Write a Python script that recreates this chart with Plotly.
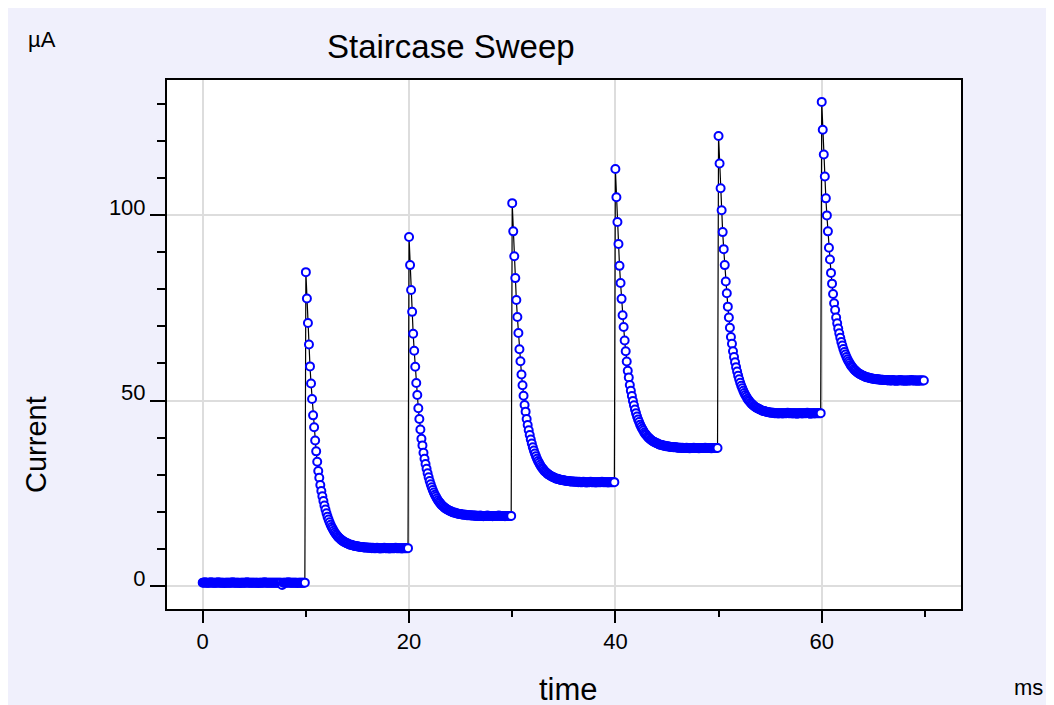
import numpy as np
import plotly.graph_objects as go

# ---- data ----
sample_interval_ms = 0.1

step0 = [0.9, 0.9, 1.0, 0.9, 0.9, 0.9, 0.9, 0.9, 1.0, 0.9,
         0.9, 0.9, 0.9, 0.9, 0.9, 1.0, 0.9, 0.9, 0.9, 0.9,
         0.9, 0.8, 0.9, 0.9, 0.9, 0.9, 0.9, 0.9, 0.9, 1.0,
         0.9, 0.9, 0.9, 0.9, 0.9, 0.9, 0.8, 0.9, 0.9, 0.9,
         0.9, 0.9, 0.9, 1.0, 0.9, 0.9, 0.9, 0.9, 0.9, 0.9,
         0.9, 0.9, 0.9, 0.9, 0.8, 0.9, 0.9, 0.9, 0.9, 0.9,
         1.0, 0.9, 0.9, 0.9, 0.9, 0.9, 0.9, 0.9, 0.9, 0.9,
         0.9, 0.9, 0.9, 0.9, 0.9, 0.9, 0.9, 0.3, 0.9, 0.9,
         0.9, 0.9, 0.9, 1.0, 0.9, 0.9, 0.9, 0.9, 0.9, 0.9,
         0.9, 0.9, 0.8, 0.9, 0.9, 0.9, 0.9, 0.9, 0.9, 0.9]

step1 = [84.6, 77.5, 70.9, 65.1, 59.2, 54.6, 50.4, 46.0, 42.8, 39.2,
         36.3, 33.5, 31.0, 29.2, 27.2, 25.6, 24.2, 22.9, 21.7, 20.6,
         19.6, 18.7, 17.9, 17.2, 16.5, 15.9, 15.4, 14.9, 14.4, 14.0,
         13.7, 13.3, 13.0, 12.8, 12.5, 12.3, 12.1, 11.9, 11.8, 11.6,
         11.5, 11.4, 11.2, 11.1, 11.1, 11.0, 10.9, 10.8, 10.8, 10.7,
         10.7, 10.6, 10.6, 10.5, 10.5, 10.5, 10.4, 10.4, 10.4, 10.4,
         10.3, 10.3, 10.3, 10.3, 10.2, 10.3, 10.2, 10.2, 10.2, 10.3,
         10.2, 10.2, 10.1, 10.2, 10.2, 10.2, 10.3, 10.2, 10.2, 10.2,
         10.2, 10.1, 10.2, 10.2, 10.2, 10.2, 10.2, 10.3, 10.2, 10.2,
         10.2, 10.2, 10.2, 10.1, 10.2, 10.2, 10.2, 10.2, 10.2, 10.2]

step2 = [94.1, 86.5, 79.8, 73.9, 68.0, 63.4, 59.1, 54.7, 51.5, 47.9,
         45.0, 42.2, 39.7, 37.9, 35.9, 34.3, 32.9, 31.6, 30.4, 29.3,
         28.3, 27.4, 26.6, 25.9, 25.2, 24.6, 24.1, 23.6, 23.1, 22.7,
         22.4, 22.0, 21.7, 21.5, 21.2, 21.0, 20.8, 20.6, 20.5, 20.3,
         20.2, 20.1, 19.9, 19.8, 19.8, 19.7, 19.6, 19.5, 19.5, 19.4,
         19.4, 19.3, 19.3, 19.2, 19.2, 19.2, 19.1, 19.1, 19.1, 19.1,
         19.0, 19.0, 19.0, 19.0, 18.9, 19.0, 18.9, 18.9, 18.9, 19.0,
         18.9, 18.9, 18.8, 18.9, 18.9, 18.9, 19.0, 18.9, 18.9, 18.9,
         18.9, 18.8, 18.9, 18.9, 18.9, 18.9, 18.9, 19.0, 18.9, 18.9,
         18.9, 18.9, 18.9, 18.8, 18.9, 18.9, 18.9, 18.9, 18.9, 18.9]

step3 = [103.2, 95.6, 88.9, 83.0, 77.1, 72.5, 68.2, 63.8, 60.6, 57.0,
         54.1, 51.3, 48.8, 47.0, 45.0, 43.4, 42.0, 40.7, 39.5, 38.4,
         37.4, 36.5, 35.7, 35.0, 34.3, 33.7, 33.2, 32.7, 32.2, 31.8,
         31.5, 31.1, 30.8, 30.6, 30.3, 30.1, 29.9, 29.7, 29.6, 29.4,
         29.3, 29.2, 29.0, 28.9, 28.9, 28.8, 28.7, 28.6, 28.6, 28.5,
         28.5, 28.4, 28.4, 28.3, 28.3, 28.3, 28.2, 28.2, 28.2, 28.2,
         28.1, 28.1, 28.1, 28.1, 28.0, 28.1, 28.0, 28.0, 28.0, 28.1,
         28.0, 28.0, 27.9, 28.0, 28.0, 28.0, 28.1, 28.0, 28.0, 28.0,
         28.0, 27.9, 28.0, 28.0, 28.0, 28.0, 28.0, 28.1, 28.0, 28.0,
         28.0, 28.0, 28.0, 27.9, 28.0, 28.0, 28.0, 28.0, 28.0, 28.0]

step4 = [112.4, 104.8, 98.1, 92.2, 86.3, 81.7, 77.4, 73.0, 69.8, 66.2,
         63.3, 60.5, 58.0, 56.2, 54.2, 52.6, 51.2, 49.9, 48.7, 47.6,
         46.6, 45.7, 44.9, 44.2, 43.5, 42.9, 42.4, 41.9, 41.4, 41.0,
         40.7, 40.3, 40.0, 39.8, 39.5, 39.3, 39.1, 38.9, 38.8, 38.6,
         38.5, 38.4, 38.2, 38.1, 38.1, 38.0, 37.9, 37.8, 37.8, 37.7,
         37.7, 37.6, 37.6, 37.5, 37.5, 37.5, 37.4, 37.4, 37.4, 37.4,
         37.3, 37.3, 37.3, 37.3, 37.2, 37.3, 37.2, 37.2, 37.2, 37.3,
         37.2, 37.2, 37.1, 37.2, 37.2, 37.2, 37.3, 37.2, 37.2, 37.2,
         37.2, 37.1, 37.2, 37.2, 37.2, 37.2, 37.2, 37.3, 37.2, 37.2,
         37.2, 37.2, 37.2, 37.1, 37.2, 37.2, 37.2, 37.2, 37.2, 37.2]

step5 = [121.3, 113.9, 107.2, 101.3, 95.4, 90.8, 86.5, 82.1, 78.9, 75.3,
         72.4, 69.6, 67.1, 65.3, 63.3, 61.7, 60.3, 59.0, 57.8, 56.7,
         55.7, 54.8, 54.0, 53.3, 52.6, 52.0, 51.5, 51.0, 50.5, 50.1,
         49.8, 49.4, 49.1, 48.9, 48.6, 48.4, 48.2, 48.0, 47.9, 47.7,
         47.6, 47.5, 47.3, 47.2, 47.2, 47.1, 47.0, 46.9, 46.9, 46.8,
         46.8, 46.7, 46.7, 46.7, 46.6, 46.6, 46.6, 46.6, 46.5, 46.6,
         46.6, 46.6, 46.5, 46.6, 46.6, 46.6, 46.6, 46.7, 46.6, 46.6,
         46.6, 46.6, 46.5, 46.6, 46.6, 46.6, 46.4, 46.6, 46.6, 46.6,
         46.6, 46.5, 46.6, 46.6, 46.6, 46.6, 46.7, 46.6, 46.6, 46.4,
         46.6, 46.6, 46.6, 46.5, 46.6, 46.6, 46.6, 46.6, 46.6, 46.6]

step6 = [130.5, 123.0, 116.3, 110.4, 104.5, 99.9, 95.6, 91.2, 88.0, 84.4,
         81.5, 78.7, 76.2, 74.4, 72.4, 70.8, 69.4, 68.1, 66.9, 65.8,
         64.8, 63.9, 63.1, 62.4, 61.7, 61.1, 60.6, 60.1, 59.6, 59.2,
         58.9, 58.5, 58.2, 58.0, 57.7, 57.5, 57.3, 57.1, 57.0, 56.8,
         56.7, 56.6, 56.4, 56.3, 56.3, 56.2, 56.1, 56.0, 56.0, 55.9,
         55.9, 55.8, 55.8, 55.7, 55.7, 55.7, 55.6, 55.6, 55.6, 55.6,
         55.5, 55.5, 55.5, 55.5, 55.4, 55.5, 55.4, 55.4, 55.4, 55.5,
         55.4, 55.4, 55.3, 55.4, 55.4, 55.4, 55.5, 55.4, 55.4, 55.4,
         55.4, 55.3, 55.4, 55.4, 55.4, 55.4, 55.4, 55.5, 55.4, 55.4,
         55.4, 55.4, 55.4, 55.3, 55.4, 55.4, 55.4, 55.4, 55.4, 55.4]

current_uA = step0 + step1 + step2 + step3 + step4 + step5 + step6
time_ms = np.arange(len(current_uA)) * sample_interval_ms

x_tick_vals = [0, 20, 40, 60]
x_tick_text = ["0", "20", "40", "60"]
y_tick_vals = [0, 50, 100]
y_tick_text = ["0", "50", "100"]

# ---- figure ----
W, H = 1054, 705
OX, OY = 8, 8          # page offset of the figure inside the screenshot
L, R, T, B = 167 - OX, 961 - OX, 80 - OY, 609 - OY
FONT = "Liberation Sans, Arial, sans-serif"
BG = "rgb(240,240,252)"

fig = go.Figure()
fig.add_trace(go.Scatter(
    x=time_ms, y=current_uA, mode="lines+markers",
    line=dict(color="black", width=1.2),
    marker=dict(symbol="circle", size=8, color="white",
                line=dict(color="#0000FF", width=2)),
    hoverinfo="skip", showlegend=False,
))

def px_x(sx):
    return (sx - OX - L) / (R - L)

def px_y(sy):
    return (B - (sy - OY)) / (B - T)

axis_common = dict(
    showline=True, linecolor="black", linewidth=2, mirror=True,
    ticks="outside", tickcolor="black", tickwidth=2,
    showgrid=True, gridcolor="#DDDDDD", gridwidth=1.5,
    zeroline=False,
    tickfont=dict(family=FONT, size=22, color="black"),
)

fig.update_layout(
    width=W, height=H,
    margin=dict(l=L, r=W - R, t=T, b=H - B, pad=0),
    paper_bgcolor=BG, plot_bgcolor="white",
    font=dict(family=FONT, color="black"),
    xaxis=dict(range=[-3.46, 73.5], tickvals=x_tick_vals, ticktext=x_tick_text,
               ticklen=12, ticklabelstandoff=0,
               minor=dict(dtick=10, tick0=0, ticklen=6, ticks="outside",
                          tickcolor="black", tickwidth=2, showgrid=False),
               **axis_common),
    yaxis=dict(range=[-6.2, 136.4], tickvals=y_tick_vals, ticktext=y_tick_text,
               ticklen=15, ticklabelshift=-8, ticklabelstandoff=0,
               minor=dict(dtick=10, tick0=0, ticklen=8, ticks="outside",
                          tickcolor="black", tickwidth=2, showgrid=False),
               **axis_common),
    annotations=[
        dict(text="Staircase Sweep", xref="paper", yref="paper",
             x=px_x(451), y=px_y(46), xanchor="center", yanchor="middle",
             showarrow=False, font=dict(family=FONT, size=33, color="black")),
        dict(text="Current", xref="paper", yref="paper", textangle=-90,
             x=px_x(36), y=px_y(445), xanchor="center", yanchor="middle",
             showarrow=False, font=dict(family=FONT, size=29, color="black")),
        dict(text="time", xref="paper", yref="paper",
             x=px_x(568), y=px_y(689), xanchor="center", yanchor="middle",
             showarrow=False, font=dict(family=FONT, size=31, color="black")),
        dict(text="µA", xref="paper", yref="paper",
             x=px_x(41.5), y=px_y(40), xanchor="center", yanchor="middle",
             showarrow=False, font=dict(family=FONT, size=22, color="black")),
        dict(text="ms", xref="paper", yref="paper",
             x=px_x(1028), y=px_y(687), xanchor="center", yanchor="middle",
             showarrow=False, font=dict(family=FONT, size=22, color="black")),
    ],
)

fig.write_html("out.html")
